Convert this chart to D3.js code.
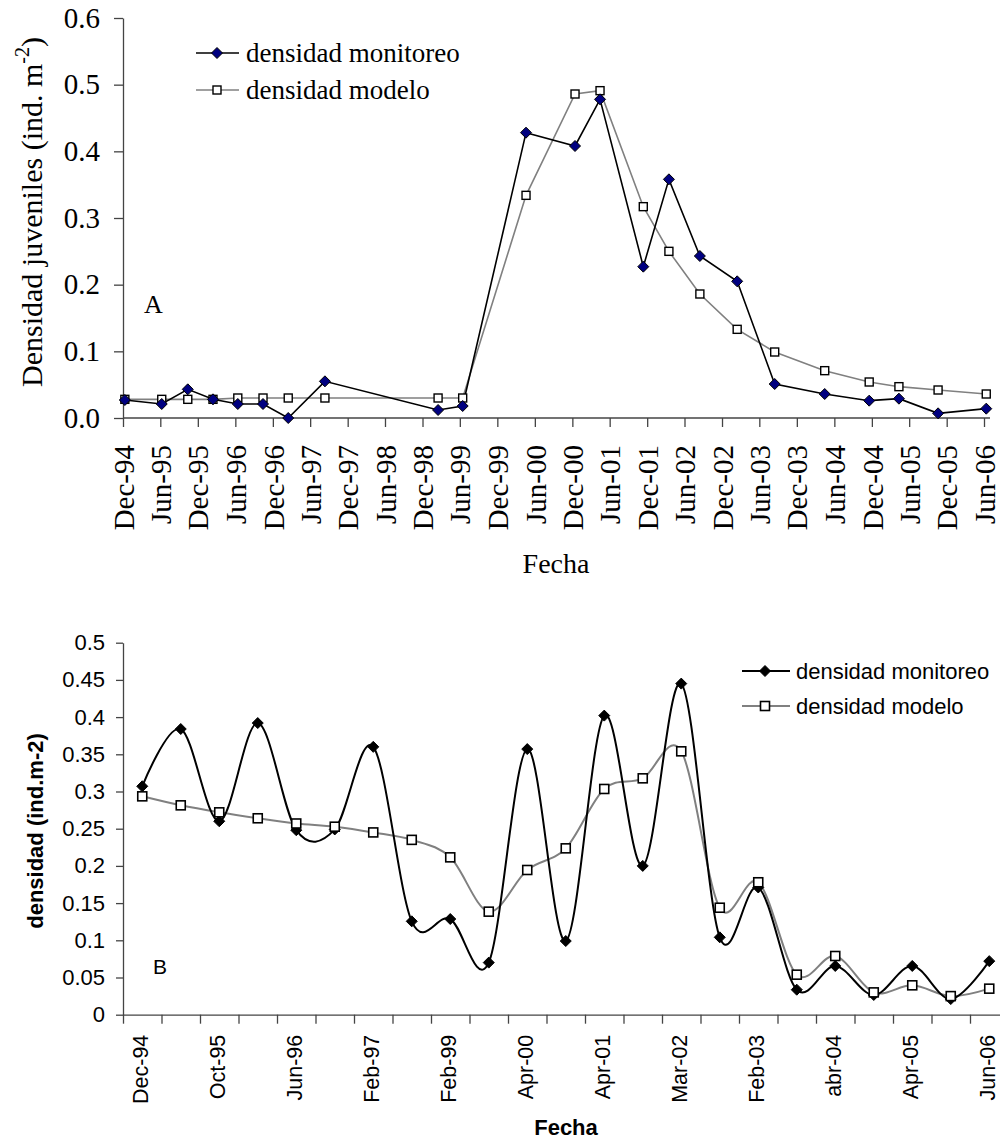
<!DOCTYPE html>
<html>
<head>
<meta charset="utf-8">
<script src="https://cdn.jsdelivr.net/npm/d3@7"></script>
<style>
  html, body { margin: 0; padding: 0; background: #fff; }
  svg { display: block; }
</style>
</head>
<body>
<svg id="chart" width="1000" height="1141"></svg>
<script>
// ---------- DATA ----------
// Panel A (date axis)
const datesA = ["1994-12-10","1995-06-08","1995-10-13","1996-02-13","1996-06-13","1996-10-14",
  "1997-02-14","1997-08-12","1999-02-15","1999-06-15","2000-04-19","2000-12-14","2001-04-15",
  "2001-11-12","2002-03-17","2002-08-15","2003-02-13","2003-08-15","2004-04-15","2004-11-18",
  "2005-04-12","2005-10-20","2006-06-12"];
const monitoreoA = [0.027,0.021,0.043,0.028,0.021,0.021,0.000,0.055,0.012,0.018,0.428,0.408,0.478,
  0.227,0.358,0.243,0.205,0.051,0.036,0.026,0.029,0.007,0.014];
const modeloA = [0.028,0.028,0.028,0.028,0.030,0.030,0.030,0.030,0.030,0.030,0.334,0.486,0.491,
  0.317,0.250,0.186,0.133,0.099,0.071,0.054,0.047,0.042,0.036];
const tickLabelsA = ["Dec-94","Jun-95","Dec-95","Jun-96","Dec-96","Jun-97","Dec-97","Jun-98",
  "Dec-98","Jun-99","Dec-99","Jun-00","Dec-00","Jun-01","Dec-01","Jun-02","Dec-02","Jun-03",
  "Dec-03","Jun-04","Dec-04","Jun-05","Dec-05","Jun-06"];
const yTicksA = [0,0.1,0.2,0.3,0.4,0.5,0.6];

// Panel B (category axis)
const categoriesB = ["Dec-94","Jun-95","Oct-95","Feb-96","Jun-96","Oct-96","Feb-97","Aug-97",
  "Feb-99","Jun-99","Apr-00","Dec-00","Apr-01","Nov-01","Mar-02","Aug-02","Feb-03","Aug-03",
  "abr-04","Nov-04","Apr-05","Oct-05","Jun-06"];
const monitoreoB = [0.307,0.384,0.260,0.392,0.248,0.249,0.360,0.1255,0.1286,0.070,0.357,0.099,
  0.402,0.200,0.445,0.104,0.171,0.0336,0.0655,0.0265,0.0655,0.021,0.072];
const modeloB = [0.2935,0.2814,0.272,0.264,0.257,0.2527,0.245,0.235,0.2115,0.1385,0.1945,0.2236,
  0.3034,0.3177,0.354,0.1438,0.178,0.0538,0.0789,0.030,0.0395,0.025,0.035];
const yTicksB = [0,0.05,0.1,0.15,0.2,0.25,0.3,0.35,0.4,0.45,0.5];

const seriesNames = ["densidad monitoreo","densidad modelo"];

// ---------- SETUP ----------
const svg = d3.select("#chart");
const parse = d3.timeParse("%Y-%m-%d");
const serif = "'Liberation Serif','Times New Roman',serif";
const sans = "'Liberation Sans',Arial,sans-serif";
const axisColor = "#444";
const diamond = "M0,-5.5L5.5,0L0,5.5L-5.5,0Z";

// ---------- PANEL A ----------
const gA = svg.append("g");
const xA = d3.scaleTime()
  .domain([new Date(1994, 11, 1), new Date(2006, 5, 1)])
  .range([123, 984]);
const yA = d3.scaleLinear().domain([0, 0.6]).range([418, 18]);
const tickDatesA = d3.timeMonths(new Date(1994, 11, 1), new Date(2006, 5, 2), 6);

const xAxisA = gA.append("g")
  .attr("transform", `translate(0,${yA(0)})`)
  .call(d3.axisBottom(xA).tickValues(tickDatesA)
    .tickFormat((d, i) => tickLabelsA[i]).tickSize(9).tickSizeOuter(0));
xAxisA.select(".domain").remove();
xAxisA.append("line").attr("x1", xA.range()[0]).attr("x2", xA.range()[1] + 6)
  .attr("stroke", axisColor).attr("stroke-width", 1.3);
xAxisA.selectAll(".tick line").attr("stroke", axisColor).attr("stroke-width", 1.3);
xAxisA.selectAll(".tick text")
  .attr("transform", "rotate(-90)")
  .attr("x", -27).attr("y", 0).attr("dy", "0.35em")
  .style("text-anchor", "end")
  .style("font-family", serif).style("font-size", "29px").attr("fill", "#000");

const yAxisA = gA.append("g")
  .attr("transform", `translate(${xA.range()[0]},0)`)
  .call(d3.axisLeft(yA).tickValues(yTicksA).tickFormat(d3.format(".1f"))
    .tickSize(9).tickSizeOuter(0).tickPadding(14));
yAxisA.select(".domain").attr("stroke", axisColor).attr("stroke-width", 1.3);
yAxisA.selectAll(".tick line").attr("stroke", axisColor).attr("stroke-width", 1.3);
yAxisA.selectAll(".tick text")
  .style("font-family", serif).style("font-size", "29px").attr("fill", "#000");

const ptsA1 = datesA.map((d, i) => [parse(d), monitoreoA[i]]);
const ptsA2 = datesA.map((d, i) => [parse(d), modeloA[i]]);
const lineA = d3.line().x(d => xA(d[0])).y(d => yA(d[1]));

gA.append("path").datum(ptsA2).attr("d", lineA)
  .attr("fill", "none").attr("stroke", "#808080").attr("stroke-width", 1.6);
gA.append("path").datum(ptsA1).attr("d", lineA)
  .attr("fill", "none").attr("stroke", "#000").attr("stroke-width", 1.6);

gA.selectAll(".sqA").data(ptsA2).join("rect")
  .attr("x", d => xA(d[0]) - 4).attr("y", d => yA(d[1]) - 4)
  .attr("width", 8).attr("height", 8)
  .attr("fill", "#fff").attr("stroke", "#000").attr("stroke-width", 1.4);
gA.selectAll(".dmA").data(ptsA1).join("path")
  .attr("d", diamond)
  .attr("transform", d => `translate(${xA(d[0])},${yA(d[1])})`)
  .attr("fill", "#000080").attr("stroke", "#000").attr("stroke-width", 1);

// legend A
const legA = gA.append("g");
[53, 90].forEach((yy, i) => {
  legA.append("line").attr("x1", 196).attr("x2", 239).attr("y1", yy).attr("y2", yy)
    .attr("stroke", i === 0 ? "#000" : "#808080").attr("stroke-width", 1.6);
  if (i === 0) {
    legA.append("path").attr("d", diamond).attr("transform", `translate(217,${yy})`)
      .attr("fill", "#000080").attr("stroke", "#000").attr("stroke-width", 1);
  } else {
    legA.append("rect").attr("x", 213).attr("y", yy - 4).attr("width", 8).attr("height", 8)
      .attr("fill", "#fff").attr("stroke", "#000").attr("stroke-width", 1.4);
  }
  legA.append("text").attr("x", 246).attr("y", yy).attr("dy", "0.35em")
    .style("font-family", serif).style("font-size", "27px").text(seriesNames[i]);
});

gA.append("text").attr("x", 144).attr("y", 313)
  .style("font-family", serif).style("font-size", "26px").text("A");

gA.append("text").attr("x", 556).attr("y", 573).attr("text-anchor", "middle")
  .style("font-family", serif).style("font-size", "28px").text("Fecha");

const yTitleA = gA.append("text")
  .attr("transform", "translate(42,212) rotate(-90)")
  .attr("text-anchor", "middle")
  .style("font-family", serif).style("font-size", "30px");
yTitleA.append("tspan").text("Densidad juveniles (ind. m");
yTitleA.append("tspan").attr("dy", -13).style("font-size", "20px").text("-2");
yTitleA.append("tspan").attr("dy", 13).text(")");

// ---------- PANEL B ----------
const gB = svg.append("g");
const nB = categoriesB.length;
const xB = d3.scaleLinear().domain([0, nB]).range([123, 123 + nB * 38.5]);
const yB = d3.scaleLinear().domain([0, 0.5]).range([1014.7, 642.7]);

const xAxisB = gB.append("g")
  .attr("transform", `translate(0,${yB(0)})`)
  .call(d3.axisBottom(xB).tickValues(d3.range(0, nB + 1)).tickFormat("")
    .tickSize(9).tickSizeOuter(0));
xAxisB.select(".domain").attr("stroke", axisColor).attr("stroke-width", 1.3);
xAxisB.selectAll(".tick line").attr("stroke", axisColor).attr("stroke-width", 1.3);

gB.selectAll(".xlabB").data(categoriesB.map((c, i) => ({c, i})).filter(d => d.i % 2 === 0))
  .join("text")
  .attr("transform", d => `translate(${xB(d.i + 0.5)},${yB(0) + 20}) rotate(-90)`)
  .attr("dy", "0.26em")
  .attr("text-anchor", "end")
  .style("font-family", sans).style("font-size", "21.5px")
  .text(d => d.c);

const yAxisB = gB.append("g")
  .attr("transform", `translate(${xB(0)},0)`)
  .call(d3.axisLeft(yB).tickValues(yTicksB).tickFormat(d => String(+d.toFixed(2)))
    .tickSize(7).tickSizeOuter(0).tickPadding(11));
yAxisB.select(".domain").attr("stroke", axisColor).attr("stroke-width", 1.3);
yAxisB.selectAll(".tick line").attr("stroke", axisColor).attr("stroke-width", 1.3);
yAxisB.selectAll(".tick text")
  .style("font-family", sans).style("font-size", "22px").attr("fill", "#000");

const lineB = d3.line().x((d, i) => xB(i + 0.5)).y(d => yB(d)).curve(d3.curveCardinal.tension(0));

gB.append("path").datum(modeloB).attr("d", lineB)
  .attr("fill", "none").attr("stroke", "#808080").attr("stroke-width", 2);
gB.append("path").datum(monitoreoB).attr("d", lineB)
  .attr("fill", "none").attr("stroke", "#000").attr("stroke-width", 2);

gB.selectAll(".dmB").data(monitoreoB).join("path")
  .attr("d", diamond)
  .attr("transform", (d, i) => `translate(${xB(i + 0.5)},${yB(d)})`)
  .attr("fill", "#000").attr("stroke", "#000").attr("stroke-width", 1);
gB.selectAll(".sqB").data(modeloB).join("rect")
  .attr("x", (d, i) => xB(i + 0.5) - 4.5).attr("y", d => yB(d) - 4.5)
  .attr("width", 9).attr("height", 9)
  .attr("fill", "#fff").attr("stroke", "#000").attr("stroke-width", 1.6);

// legend B
const legB = gB.append("g");
[671, 706].forEach((yy, i) => {
  legB.append("line").attr("x1", 742).attr("x2", 790).attr("y1", yy).attr("y2", yy)
    .attr("stroke", i === 0 ? "#000" : "#808080").attr("stroke-width", 2);
  if (i === 0) {
    legB.append("path").attr("d", diamond).attr("transform", `translate(765,${yy})`)
      .attr("fill", "#000").attr("stroke", "#000").attr("stroke-width", 1);
  } else {
    legB.append("rect").attr("x", 760.5).attr("y", yy - 4.5).attr("width", 9).attr("height", 9)
      .attr("fill", "#fff").attr("stroke", "#000").attr("stroke-width", 1.6);
  }
  legB.append("text").attr("x", 796).attr("y", yy).attr("dy", "0.35em")
    .style("font-family", sans).style("font-size", "22px").text(seriesNames[i]);
});

gB.append("text").attr("x", 153).attr("y", 974)
  .style("font-family", sans).style("font-size", "21px").text("B");

gB.append("text").attr("x", 566).attr("y", 1135).attr("text-anchor", "middle")
  .style("font-family", sans).style("font-size", "22px").style("font-weight", "bold").text("Fecha");

gB.append("text")
  .attr("transform", "translate(43,831) rotate(-90)")
  .attr("text-anchor", "middle")
  .style("font-family", sans).style("font-size", "22px").style("font-weight", "bold")
  .text("densidad (ind.m-2)");
</script>
</body>
</html>
